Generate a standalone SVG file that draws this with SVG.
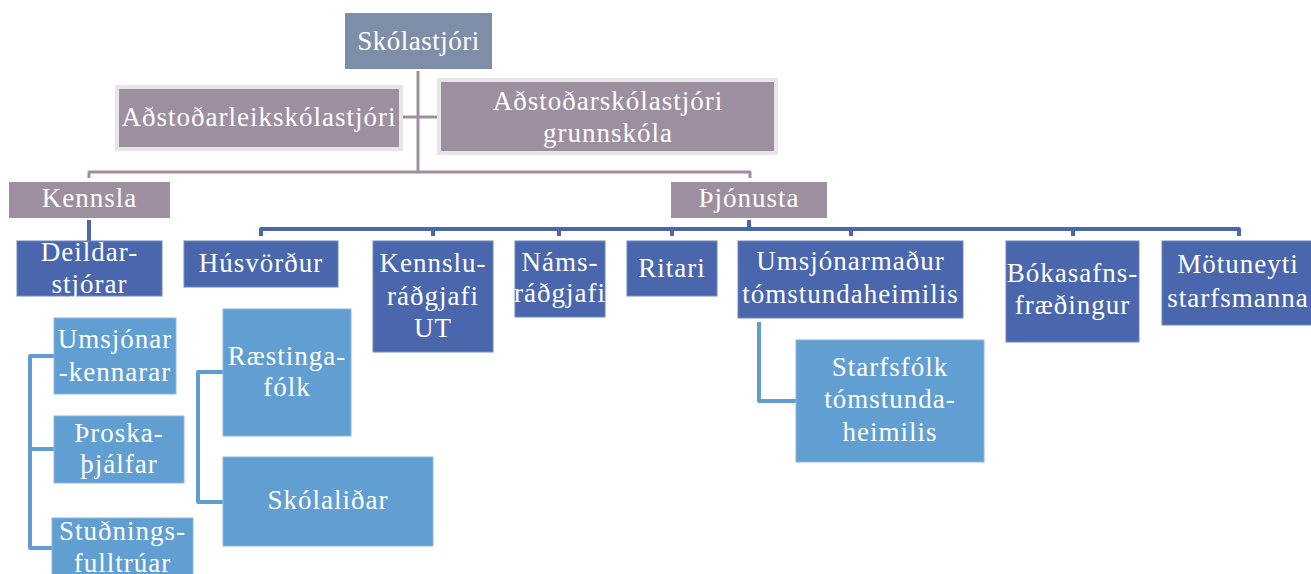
<svg xmlns="http://www.w3.org/2000/svg" width="1311" height="574" viewBox="0 0 1311 574">
<style>
text{font-family:"Liberation Serif","DejaVu Serif",serif;font-size:27px;fill:#ffffff;text-anchor:middle;letter-spacing:1px}
.top{fill:#7e8ea9}
.mauve{fill:#9d8f9f}
.mauveb{fill:#9d8f9f;stroke:#e6e6e6;stroke-width:4}
.dark{fill:#4a66ac;stroke:#6f88c2;stroke-width:1}
.light{fill:#619fd2;stroke:#8ab8e0;stroke-width:1}
.cm{fill:none;stroke:#9d8f9f;stroke-width:3;stroke-linejoin:round}
.cb{fill:none;stroke:#4a66ac;stroke-width:4;stroke-linejoin:round}
.cl{fill:none;stroke:#5f9dd3;stroke-width:4;stroke-linejoin:round}
</style>
<g id="connectors">
<path class="cm" d="M418 71V172M403 117H437M89 178V172H750V178"/>
<path class="cb" d="M89 220V241M749 220V229M261 236V229H1239V236M433 229V236M559 229V236M672 229V236M851 229V236M1073 229V236"/>
<path class="cl" d="M54 356H30V548H52M30 449H54"/>
<path class="cl" d="M223 372H198V502H223"/>
<path class="cl" d="M759 322V401H796"/>
</g>
<g id="n-skolastjori"><rect class="top" x="345" y="13" width="147" height="56"/><text x="418.5" y="50" style="letter-spacing:0.5px">Skólastjóri</text></g>
<g id="n-adstodarleik"><rect class="mauveb" x="117" y="87" width="284" height="62"/><text x="259" y="126">Aðstoðarleikskólastjóri</text></g>
<g id="n-adstodarskola"><rect class="mauveb" x="439" y="80" width="337" height="73"/><text x="608" y="110">Aðstoðarskólastjóri</text><text x="608" y="142">grunnskóla</text></g>
<g id="n-kennsla"><rect class="mauve" x="9" y="182" width="161" height="36"/><text x="89.5" y="207">Kennsla</text></g>
<g id="n-thjonusta"><rect class="mauve" x="671" y="182" width="156" height="36"/><text x="749" y="207">Þjónusta</text></g>
<g id="n-deildarstjorar"><rect class="dark" x="17" y="241" width="145" height="55"/><text x="89.5" y="261">Deildar-</text><text x="89.5" y="293">stjórar</text></g>
<g id="n-husvordur"><rect class="dark" x="184" y="241" width="154" height="46"/><text x="261" y="272">Húsvörður</text></g>
<g id="n-kennslurad"><rect class="dark" x="373" y="241" width="120" height="111"/><text x="433" y="272">Kennslu-</text><text x="433" y="305">ráðgjafi</text><text x="433" y="337">UT</text></g>
<g id="n-namsrad"><rect class="dark" x="515" y="241" width="90" height="76"/><text x="560" y="271">Náms-</text><text x="560" y="302">ráðgjafi</text></g>
<g id="n-ritari"><rect class="dark" x="627" y="241" width="90" height="55"/><text x="672" y="277">Ritari</text></g>
<g id="n-umsjonarmadur"><rect class="dark" x="738" y="241" width="225" height="77"/><text x="850.5" y="270">Umsjónarmaður</text><text x="850.5" y="303">tómstundaheimilis</text></g>
<g id="n-bokasafn"><rect class="dark" x="1006" y="241" width="133" height="101"/><text x="1072.5" y="282">Bókasafns-</text><text x="1072.5" y="314">fræðingur</text></g>
<g id="n-motuneyti"><rect class="dark" x="1162" y="241" width="155" height="84"/><text x="1238" y="273">Mötuneyti</text><text x="1238" y="307">starfsmanna</text></g>
<g id="n-umsjonarkennarar"><rect class="light" x="54" y="318" width="122" height="76"/><text x="115" y="348">Umsjónar</text><text x="115" y="381">-kennarar</text></g>
<g id="n-throskathjalfar"><rect class="light" x="54" y="416" width="130" height="67"/><text x="119" y="442">Þroska-</text><text x="119" y="473">þjálfar</text></g>
<g id="n-studnings"><rect class="light" x="52" y="518" width="141" height="64"/><text x="122.5" y="540">Stuðnings-</text><text x="122.5" y="572">fulltrúar</text></g>
<g id="n-raestinga"><rect class="light" x="223" y="309" width="128" height="127"/><text x="287" y="365">Ræstinga-</text><text x="287" y="396">fólk</text></g>
<g id="n-skolalidar"><rect class="light" x="223" y="457" width="210" height="89"/><text x="328" y="509">Skólaliðar</text></g>
<g id="n-starfsfolk"><rect class="light" x="796" y="340" width="188" height="122"/><text x="890" y="376">Starfsfólk</text><text x="890" y="408">tómstunda-</text><text x="890" y="441">heimilis</text></g>
</svg>
